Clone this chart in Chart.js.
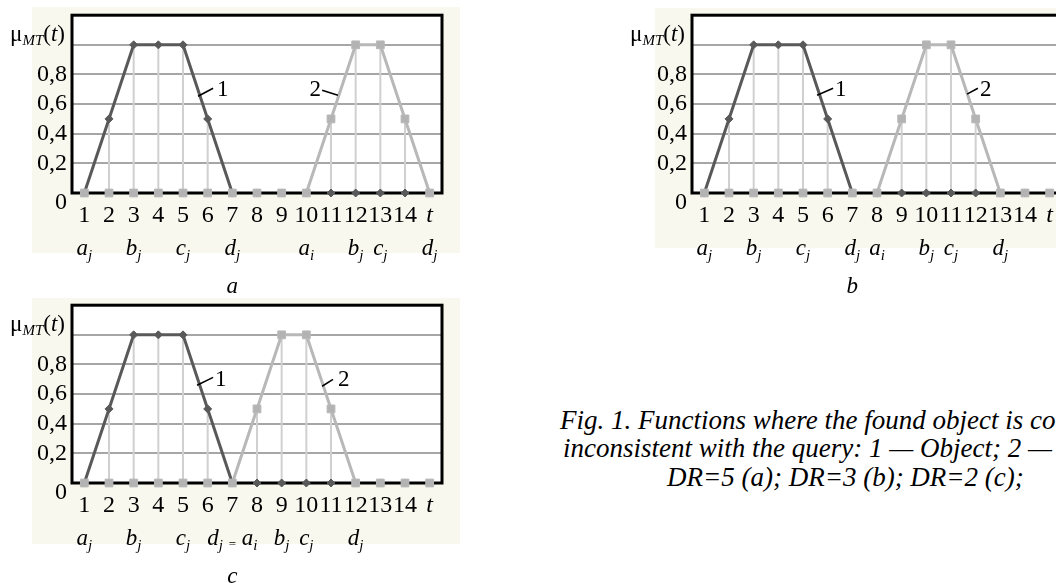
<!DOCTYPE html>
<html>
<head>
<meta charset="utf-8">
<script src="https://cdn.jsdelivr.net/npm/chart.js@4.4.1/dist/chart.umd.min.js"></script>
<style>
  html, body { margin: 0; padding: 0; width: 1056px; height: 583px; overflow: hidden; background: #fff; }
  .tint { position: absolute; background: #f8f8ef; }
  .box { position: absolute; width: 460px; height: 300px; }
  .cap { position: absolute; font: italic 27px 'Liberation Serif', 'Times New Roman', serif; line-height: 29px; white-space: nowrap; color: #000; }
</style>
</head>
<body>
<div class="tint" style="left:32px;top:7px;width:428px;height:246px"></div>
<div class="tint" style="left:655px;top:8px;width:401px;height:240px"></div>
<div class="tint" style="left:32px;top:298px;width:428px;height:246px"></div>

<div class="box" style="left:0;top:0"><canvas id="chartA"></canvas></div>
<div class="box" style="left:620px;top:0"><canvas id="chartB"></canvas></div>
<div class="box" style="left:0;top:290px"><canvas id="chartC"></canvas></div>

<div class="cap" style="left:560px;top:406px">Fig. 1. Functions where the found object is completely</div>
<div class="cap" style="left:563px;top:434px">inconsistent with the query: 1 — Object; 2 — Query;</div>
<div class="cap" style="left:667px;top:463px">DR=5 (a); DR=3 (b); DR=2 (c);</div>

<script>
// time steps on the x axis
const tLabels = ["1", "2", "3", "4", "5", "6", "7", "8", "9", "10", "11", "12", "13", "14", "t"];

// chart a (DR=5)
const objectA = [0, 0.5, 1, 1, 1, 0.5, 0, 0, 0, 0, 0, 0, 0, 0];
const queryA = [0, 0, 0, 0, 0, 0, 0, 0, 0, 0, 0.5, 1, 1, 0.5, 0];
const marksA = ["a_j", "", "b_j", "", "c_j", "", "d_j", "", "", "a_i", "", "b_j", "c_j", "", "d_j"];

// chart b (DR=3)
const objectB = [0, 0.5, 1, 1, 1, 0.5, 0, 0, 0, 0, 0, 0, 0, 0];
const queryB = [0, 0, 0, 0, 0, 0, 0, 0, 0.5, 1, 1, 0.5, 0, 0, 0];
const marksB = ["a_j", "", "b_j", "", "c_j", "", "d_j", "a_i", "", "b_j", "c_j", "", "d_j", "", ""];

// chart c (DR=2)
const objectC = [0, 0.5, 1, 1, 1, 0.5, 0, 0, 0, 0, 0, 0, 0, 0];
const queryC = [0, 0, 0, 0, 0, 0, 0, 0.5, 1, 1, 0.5, 0, 0, 0, 0];
const marksC = ["a_j", "", "b_j", "", "c_j", "", "d_j = a_i", "", "b_j", "c_j", "", "d_j", "", "", ""];

const SERIF = "'Liberation Serif', 'Times New Roman', serif";
const UP22 = "23px " + SERIF;
const IT22 = "italic 23px " + SERIF;
const IT14 = "italic 15px " + SERIF;

// draw a row of text pieces, each with its own font and vertical shift
function drawPieces(ctx, pieces, x, y, align) {
  let total = 0;
  pieces.forEach(p => { ctx.font = p.f; p.w = ctx.measureText(p.t).width; total += p.w; });
  let cx = align === 'right' ? x - total : align === 'center' ? x - total / 2 : x;
  ctx.textAlign = 'left';
  ctx.textBaseline = 'alphabetic';
  pieces.forEach(p => {
    ctx.font = p.f;
    ctx.fillText(p.t, cx, y + (p.dy || 0));
    cx += p.w;
  });
}

function markPieces(text) {
  const out = [];
  text.split(' ').forEach((tok, k) => {
    if (k > 0) out.push({ t: ' ', f: IT22 });
    if (tok === '=') { out.push({ t: '=', f: "13px " + SERIF, dy: 3 }); return; }
    const [m, s] = tok.split('_');
    out.push({ t: m, f: IT22 });
    if (s) out.push({ t: s, f: IT14, dy: 5 });
  });
  return out;
}

const figPlugin = {
  id: 'fig',
  beforeDraw(chart) {
    const { ctx, chartArea: a } = chart;
    ctx.save();
    ctx.fillStyle = '#fff';
    ctx.fillRect(a.left, a.top, a.width, a.height);
    ctx.restore();
  },
  beforeDatasetsDraw(chart) {
    const { ctx, chartArea: a, scales: { x, y } } = chart;
    const d0 = chart.data.datasets[0].data;
    const d1 = chart.data.datasets[1].data;
    ctx.save();
    // drop lines
    ctx.strokeStyle = '#d0d0d0';
    ctx.lineWidth = 2;
    for (let i = 0; i < chart.data.labels.length; i++) {
      const v = Math.max(d0[i] || 0, d1[i] || 0);
      if (v <= 0) continue;
      const px = x.getPixelForValue(i);
      ctx.beginPath();
      ctx.moveTo(px, y.getPixelForValue(v));
      ctx.lineTo(px, y.getPixelForValue(0));
      ctx.stroke();
    }
    // plot frame
    ctx.strokeStyle = '#000';
    ctx.lineWidth = 3;
    ctx.strokeRect(a.left, a.top, a.width, a.height);
    ctx.restore();
  },
  afterDraw(chart, args, o) {
    const { ctx, chartArea: a, scales: { x, y } } = chart;
    ctx.save();
    ctx.fillStyle = '#000';
    // axis title
    drawPieces(ctx, [
      { t: 'μ', f: UP22 },
      { t: 'MT', f: "italic 15px " + SERIF, dy: 4 },
      { t: '(', f: UP22 },
      { t: 't', f: IT22 },
      { t: ')', f: UP22 }
    ], a.left - 7, a.top + 26, 'right');
    // interval marks under the ticks
    o.marks.forEach((m, i) => {
      if (m) drawPieces(ctx, markPieces(m), x.getPixelForValue(i), a.bottom + 62, 'center');
    });
    // series callouts
    ctx.strokeStyle = '#000';
    ctx.lineWidth = 1.5;
    o.notes.forEach(n => {
      ctx.beginPath();
      ctx.moveTo(x.getPixelForValue(n.line[0]), y.getPixelForValue(n.line[1]));
      ctx.lineTo(x.getPixelForValue(n.line[2]), y.getPixelForValue(n.line[3]));
      ctx.stroke();
      drawPieces(ctx, [{ t: n.text, f: UP22 }], x.getPixelForValue(n.at[0]), y.getPixelForValue(n.at[1]), n.align);
    });
    // panel letter
    drawPieces(ctx, [{ t: o.letter, f: IT22 }], x.getPixelForValue(6), a.bottom + 100, 'center');
    ctx.restore();
  }
};

const hideFlat = {
  borderColor: c => (c.p0.parsed.y === 0 && c.p1.parsed.y === 0) ? 'rgba(0,0,0,0)' : undefined
};

function makeChart(id, objVals, queryVals, marks, notes, letter) {
  return new Chart(document.getElementById(id), {
    type: 'line',
    data: {
      labels: tLabels,
      datasets: [
        {
          label: 'Object', data: objVals, order: 2, clip: false,
          borderColor: '#595959', backgroundColor: '#595959', borderWidth: 3,
          pointStyle: 'rectRot', pointRadius: 4, pointBorderWidth: 1,
          tension: 0, segment: hideFlat
        },
        {
          label: 'Query', data: queryVals, order: 1, clip: false,
          borderColor: '#b8b8b8', backgroundColor: '#b3b3b3', borderWidth: 3,
          pointStyle: 'rect', pointRadius: 5.5, pointBorderWidth: 1,
          tension: 0, segment: hideFlat
        }
      ]
    },
    options: {
      responsive: true,
      maintainAspectRatio: false,
      animation: false,
      layout: { padding: { left: 0, right: 18, top: 13, bottom: 0 } },
      plugins: {
        legend: { display: false },
        tooltip: { enabled: false },
        fig: { marks: marks, notes: notes, letter: letter }
      },
      scales: {
        x: {
          type: 'category',
          offset: true,
          grid: { display: false, drawTicks: false },
          border: { display: false },
          ticks: {
            autoSkip: false, maxRotation: 0, minRotation: 0, padding: 8, color: '#000',
            font: c => ({ family: SERIF, size: 24, style: c.index === 14 ? 'italic' : 'normal' })
          },
          afterFit: s => { s.height = 107; }
        },
        y: {
          min: 0, max: 1.2,
          grid: {
            drawTicks: false, lineWidth: 2,
            color: c => {
              const k = Math.round(c.tick.value * 10);
              return (k > 0 && k <= 10) ? '#a6a6a6' : 'rgba(0,0,0,0)';
            }
          },
          border: { display: false },
          ticks: {
            autoSkip: false, stepSize: 0.2, padding: 5, color: '#000',
            font: { family: SERIF, size: 24, lineHeight: 0.85 },
            callback: v => {
              const k = Math.round(v * 10);
              if (k === 0) return ['', '0'];
              if (k >= 10) return '';
              return '0,' + k;
            }
          },
          afterFit: s => { s.width = 72; }
        }
      }
    },
    plugins: [figPlugin]
  });
}

makeChart('chartA', objectA, queryA, marksA, [
  { line: [4.61, 0.653, 5.22, 0.707], text: '1', at: [5.38, 0.653], align: 'left' },
  { line: [9.64, 0.693, 10.28, 0.66], text: '2', at: [9.59, 0.653], align: 'right' }
], 'a');

makeChart('chartB', objectB, queryB, marksB, [
  { line: [4.57, 0.66, 5.22, 0.707], text: '1', at: [5.30, 0.653], align: 'left' },
  { line: [10.65, 0.667, 11.09, 0.707], text: '2', at: [11.18, 0.653], align: 'left' }
], 'b');

makeChart('chartC', objectC, queryC, marksC, [
  { line: [4.57, 0.66, 5.22, 0.713], text: '1', at: [5.30, 0.653], align: 'left' },
  { line: [9.64, 0.653, 10.08, 0.70], text: '2', at: [10.28, 0.653], align: 'left' }
], 'c');
</script>
</body>
</html>
